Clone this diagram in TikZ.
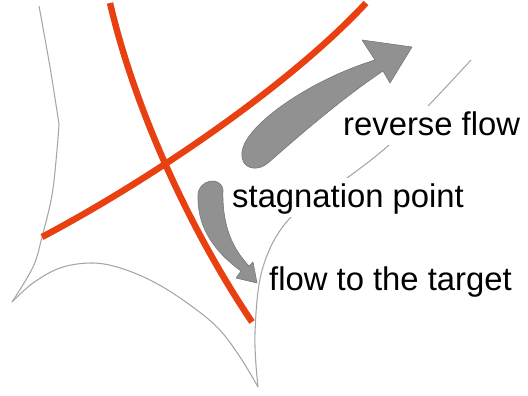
\documentclass[tikz,border=0pt]{standalone}
\usepackage{fontspec}
\setmainfont{Liberation Sans}
\usepackage{tikz}
\usetikzlibrary{positioning}

\definecolor{flamered}{RGB}{232,64,16}
\definecolor{wallgray}{RGB}{165,165,165}
\definecolor{arrowgray}{RGB}{145,145,145}
\definecolor{arrowedge}{RGB}{118,118,118}

\begin{document}
\begin{tikzpicture}[x=0.03cm, y=-0.03cm,
  redline/.style = {draw=flamered, line width=5.5pt},
  outline/.style = {draw=wallgray, line width=0.9pt},
  flowarrow/.style = {fill=arrowgray, draw=arrowedge, line width=0.5pt, line join=round},
  flowtext/.style = {anchor=base west, fill=white, inner sep=0pt,
    text height=0.87cm, text depth=0.3cm, font=\fontsize{28}{34}\selectfont}
]
\useasboundingbox (0,0) rectangle (528,396);

\draw[outline] plot[smooth, tension=0.5] coordinates
  {(39,6) (50,67) (59,124)};
\draw[outline] plot[smooth, tension=0.6] coordinates
  {(59,124) (57,150) (52,195) (42,237) (33,267) (12,302)};
\draw[outline] plot[smooth, tension=0.6] coordinates
  {(12,302) (33,283) (60,268) (90,263) (117,267) (150,280) (183,300) (217,327) (240,357) (258,387)};
\draw[outline] plot[smooth, tension=0.6] coordinates
  {(258,387) (255,333) (263,267) (291,217) (347,178) (389,145) (429,105) (471,60)};

\node[flowtext] (rev) at (343,135) {reverse flow};
\node[flowtext] (stag) at (232,207) {stagnation point};
\node[flowtext] (target) at (269,290) {flow to the target};

\draw[redline] (110,3) .. controls (135,110) and (190,230) .. (252,322);
\draw[redline] (42,237) .. controls (150,180) and (290,85) .. (366,3);

\draw[flowarrow] (375,60) -- (362,40) -- (412,47) -- (390,83) -- (383,71)
  .. controls (340,100) and (300,135) .. (268,163)
  .. controls (258,172) and (240,170) .. (242,152)
  .. controls (245,125) and (310,80) .. (375,60) -- cycle;

\draw[flowarrow] (249,266) -- (253,262) -- (257,283) -- (236,278) -- (241,271)
  .. controls (212,250) and (197,225) .. (198,195)
  .. controls (198,180) and (221,175) .. (223,190)
  .. controls (222,225) and (232,248) .. (249,266) -- cycle;
\end{tikzpicture}
\end{document}
